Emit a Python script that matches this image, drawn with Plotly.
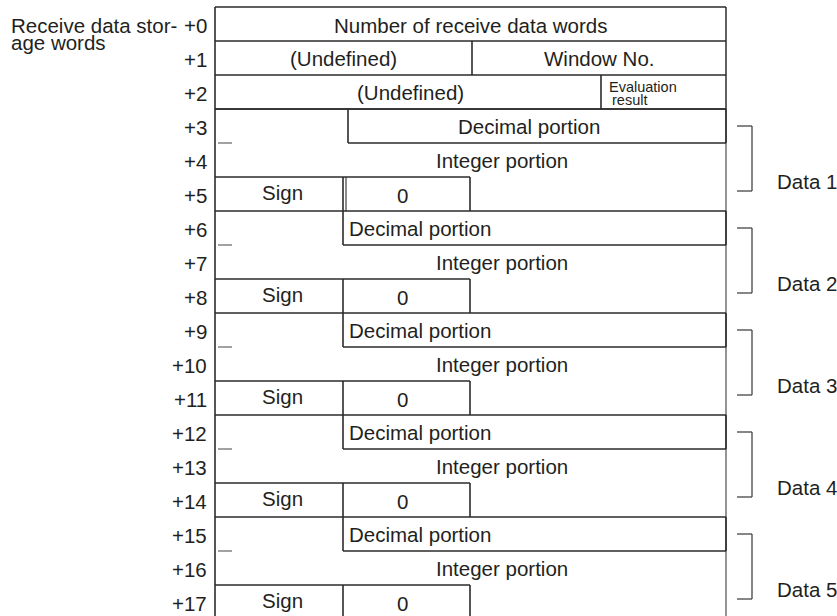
import plotly.graph_objects as go

# ---- content ----
title_lines = ["Receive data stor-", "age words"]
row_labels = ["+0", "+1", "+2", "+3", "+4", "+5", "+6", "+7", "+8",
              "+9", "+10", "+11", "+12", "+13", "+14", "+15", "+16", "+17"]
header_text = "Number of receive data words"
row1_texts = ["(Undefined)", "Window No."]
row2_texts = ["(Undefined)", "Evaluation", "result"]
decimal_text = "Decimal portion"
integer_text = "Integer portion"
sign_text = "Sign"
zero_text = "0"
data_labels = ["Data 1", "Data 2", "Data 3", "Data 4", "Data 5"]

# ---- geometry (pixels) ----
W, H = 837, 616
X0, X1 = 215, 726
Y0, RH = 7, 34
XSIGN, XZERO = 343, 470
FONT = "Liberation Sans, Arial, sans-serif"
FS = 20.5
TXT = "#231f20"
DARK = "#2b2b2b"
GREY = "#7a7a7a"

shapes = []
ann = []

def line(x0, y0, x1, y1, color=DARK, width=1.6):
    shapes.append(dict(type="line", x0=x0, y0=y0, x1=x1, y1=y1, xref="x", yref="y",
                       line=dict(color=color, width=width)))

def text(x, y, s, size=FS, xanchor="center"):
    ann.append(dict(x=x, y=y, xref="x", yref="y", text=s, showarrow=False,
                    xanchor=xanchor, yanchor="middle",
                    font=dict(family=FONT, size=size, color=TXT)))

def ry(r):
    return Y0 + RH * r

def rc(r):
    return Y0 + RH * r + RH / 2

# outer borders
line(X0, Y0, X0, H + 10)
line(X1, Y0, X1, H + 10, color=GREY)
line(X1, Y0, X1, ry(3), color="#555555")
# header rows
for r in range(4):
    line(X0, ry(r), X1, ry(r))
line(472, ry(1), 472, ry(2))
line(601, ry(2), 601, ry(3))

text((X0 + X1) / 2, rc(0) + 1, header_text)
text((X0 + 472) / 2, rc(1), row1_texts[0])
text((472 + X1) / 2, rc(1), row1_texts[1])
text((X0 + 601) / 2 + 2, rc(2), row2_texts[0])
text(607, ry(2) + 12, row2_texts[1], size=14.5, xanchor="left")
text(610, ry(2) + 25, row2_texts[2], size=14.5, xanchor="left")

# row labels
for i, lab in enumerate(row_labels):
    text(209, rc(i) + 1, lab, xanchor="right")

# title
text(9, rc(0) + 1, title_lines[0], xanchor="left")
text(9, rc(0) + 18, title_lines[1], xanchor="left")

# data blocks
for k, lab in enumerate(data_labels):
    r0 = 3 + 3 * k
    T = ry(r0)
    dl = 348 if k == 0 else XSIGN
    line(X0, T, X1, T)
    # decimal box
    line(dl, T, dl, T + RH)
    line(dl, T + RH, X1, T + RH)
    line(X1, T, X1, T + RH)
    # small dash remnant
    line(218, T + RH, 232, T + RH, color=GREY, width=1.4)
    if k == 0:
        text(529, rc(r0), decimal_text)
    else:
        text(dl + 4, rc(r0), decimal_text, xanchor="left")
    text(502, rc(r0 + 1), integer_text)
    # sign / zero boxes
    line(X0, T + 2 * RH, XZERO, T + 2 * RH)
    line(XSIGN, T + 2 * RH, XSIGN, T + 3 * RH)
    if k == 0:
        line(XSIGN + 3, T + 2 * RH, XSIGN + 3, T + 3 * RH, width=1.1)
    line(XZERO, T + 2 * RH, XZERO, T + 3 * RH)
    text((X0 + XSIGN) / 2 + 3, rc(r0 + 2) - 2, sign_text)
    text((XSIGN + XZERO) / 2 - 4, rc(r0 + 2) + 1, zero_text)
    # bracket
    line(737, T + 17, 752, T + 17, color="#444444", width=1.3)
    line(752, T + 17, 752, T + 82, color="#444444", width=1.3)
    line(737, T + 82, 752, T + 82, color="#444444", width=1.3)
    text(775, T + 72, lab, xanchor="left")

# bottom line of last block (off canvas)
line(X0, ry(18), X1, ry(18))

fig = go.Figure()
fig.update_layout(
    width=W, height=H,
    margin=dict(l=0, r=0, t=0, b=0),
    paper_bgcolor="white", plot_bgcolor="white",
    xaxis=dict(range=[0, W], visible=False, fixedrange=True),
    yaxis=dict(range=[H, 0], visible=False, fixedrange=True),
    shapes=shapes, annotations=ann, showlegend=False,
)
fig.write_html(
    "out.html",
    config={"displayModeBar": False},
    post_script="document.body.style.margin='0';document.body.style.overflow='hidden';",
)
